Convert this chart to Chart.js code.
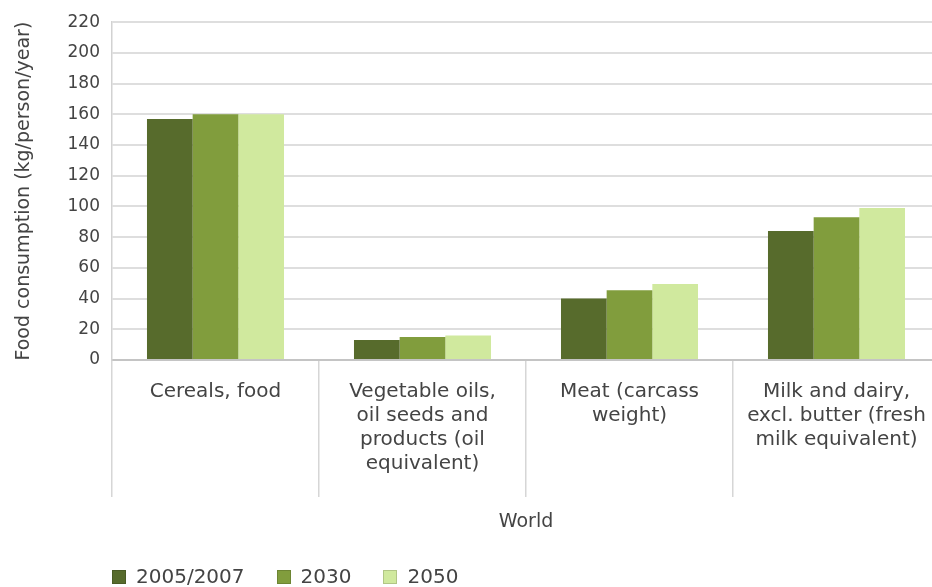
<!DOCTYPE html>
<html>
<head>
<meta charset="utf-8">
<title>World food consumption</title>
<script src="https://cdn.jsdelivr.net/npm/chart.js@4/dist/chart.umd.min.js"></script>
<style>
  html, body { margin: 0; padding: 0; background: #fff; overflow: hidden; }
  #wrap { position: relative; width: 940px; height: 587px; }
  #box { position: absolute; left: 0; top: 0; width: 940px; height: 587px; }
  #legend { position: absolute; left: 112px; top: 565px; display: flex; font: 20px "DejaVu Sans", sans-serif; color: #444; line-height: 23px; }
  #legend .item { display: flex; align-items: center; margin-right: 32px; }
  #legend .swatch { width: 14px; height: 14px; margin-right: 10px; box-sizing: border-box; border: 1px solid rgba(0,0,0,0.15); }
</style>
</head>
<body>
<div id="wrap">
  <div id="box"><canvas id="myChart"></canvas></div>
  <div id="legend"></div>
</div>
<script>
let categories = [
  ['Cereals, food'],
  ['Vegetable oils,', 'oil seeds and', 'products (oil', 'equivalent)'],
  ['Meat (carcass', 'weight)'],
  ['Milk and dairy,', 'excl. butter (fresh', 'milk equivalent)']
];
let seriesNames = ['2005/2007', '2030', '2050'];
let values2005 = [157, 13, 40, 84];
let values2030 = [160, 15, 45.5, 93];
let values2050 = [160, 16, 49.5, 99];
let yTicks = [0, 20, 40, 60, 80, 100, 120, 140, 160, 180, 200, 220];
let colors = ['#576b2c', '#819d3d', '#d0e99e'];

Chart.defaults.font.family = '"DejaVu Sans", sans-serif';
Chart.defaults.color = '#444';

let seriesValues = [values2005, values2030, values2050];

let ctx = document.getElementById('myChart').getContext('2d');

let chart = new Chart(ctx, {
  type: 'bar',
  data: {
    labels: categories,
    datasets: seriesNames.map((name, i) => ({
      label: name,
      data: seriesValues[i],
      backgroundColor: colors[i],
      borderWidth: 0,
      categoryPercentage: 0.662,
      barPercentage: 1
    }))
  },
  options: {
    responsive: true,
    maintainAspectRatio: false,
    animation: false,
    layout: { padding: { left: 8, top: 16, right: 0, bottom: 51 } },
    plugins: {
      legend: { display: false },
      tooltip: { enabled: false }
    },
    scales: {
      x: {
        grid: { offset: true, drawOnChartArea: false, drawTicks: true, tickLength: 137, color: '#d6d6d6', lineWidth: 1.5 },
        border: { color: '#c4c4c4', width: 2 },
        ticks: { padding: -117, font: { size: 20, lineHeight: 1.2 }, color: '#444', autoSkip: false, maxRotation: 0, minRotation: 0 },
        title: { display: true, text: 'World', font: { size: 19 }, color: '#444', padding: { top: 0, bottom: 3 } },
        afterFit: s => { s.height = 176; }
      },
      y: {
        min: 0,
        max: 220,
        afterBuildTicks: s => { s.ticks = yTicks.map(v => ({ value: v })); },
        ticks: { padding: 12, font: { size: 17 }, color: '#444' },
        grid: { color: '#dedede', lineWidth: 2, drawTicks: false },
        border: { color: '#d2d2d2', width: 1.5 },
        title: { display: true, text: 'Food consumption (kg/person/year)', font: { size: 19 }, color: '#444', padding: { top: 5, bottom: 0 } },
        afterFit: s => { s.width = 104; }
      }
    }
  }
});

// legend row under the axis title
let legend = document.getElementById('legend');
chart.data.datasets.forEach(ds => {
  let item = document.createElement('span');
  item.className = 'item';
  let sw = document.createElement('span');
  sw.className = 'swatch';
  sw.style.background = ds.backgroundColor;
  item.appendChild(sw);
  item.appendChild(document.createTextNode(ds.label));
  legend.appendChild(item);
});
</script>
</body>
</html>
